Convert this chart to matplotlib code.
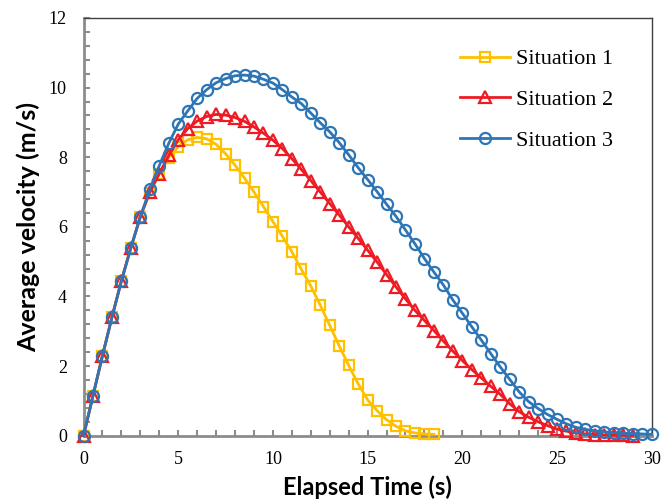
import matplotlib.pyplot as plt
from matplotlib.ticker import MultipleLocator

# sample times (s)
t = [0, 0.5, 1, 1.5, 2, 2.5, 3, 3.5, 4, 4.5, 5, 5.5, 6, 6.5, 7, 7.5, 8, 8.5, 9, 9.5,
     10, 10.5, 11, 11.5, 12, 12.5, 13, 13.5, 14, 14.5, 15, 15.5, 16, 16.5, 17, 17.5,
     18, 18.5, 19, 19.5, 20, 20.5, 21, 21.5, 22, 22.5, 23, 23.5, 24, 24.5, 25, 25.5,
     26, 26.5, 27, 27.5, 28, 28.5, 29, 29.5, 30]

v1 = [0, 1.15, 2.30, 3.40, 4.45, 5.40, 6.29, 6.98, 7.53, 7.98, 8.30, 8.50, 8.57, 8.53,
      8.37, 8.10, 7.77, 7.40, 7.00, 6.58, 6.15, 5.73, 5.28, 4.78, 4.30, 3.75, 3.17, 2.58,
      2.02, 1.49, 1.03, 0.72, 0.46, 0.27, 0.14, 0.08, 0.05, 0.04]

v2 = [0, 1.15, 2.30, 3.40, 4.45, 5.40, 6.29, 7.00, 7.53, 8.05, 8.50, 8.82, 9.04, 9.17,
      9.23, 9.21, 9.14, 9.03, 8.87, 8.69, 8.49, 8.25, 7.96, 7.65, 7.33, 7.00, 6.67, 6.34,
      6.00, 5.67, 5.33, 4.99, 4.63, 4.27, 3.93, 3.60, 3.31, 3.02, 2.72, 2.43, 2.16, 1.90,
      1.66, 1.42, 1.19, 0.92, 0.69, 0.53, 0.40, 0.29, 0.19, 0.13, 0.08, 0.05, 0.03, 0.02,
      0.01, 0.01, 0.00]

v3 = [0, 1.15, 2.30, 3.40, 4.45, 5.40, 6.29, 7.08, 7.76, 8.40, 8.95, 9.33, 9.69, 9.94,
      10.14, 10.26, 10.34, 10.36, 10.33, 10.24, 10.13, 9.94, 9.73, 9.54, 9.27, 8.99, 8.73,
      8.42, 8.07, 7.70, 7.36, 7.01, 6.65, 6.30, 5.91, 5.51, 5.09, 4.70, 4.33, 3.90, 3.52,
      3.13, 2.75, 2.36, 1.98, 1.62, 1.26, 0.98, 0.78, 0.61, 0.47, 0.34, 0.24, 0.18, 0.14,
      0.11, 0.09, 0.07, 0.06, 0.05, 0.04]

labels = ['Situation 1', 'Situation 2', 'Situation 3']
colors = ['#FFC000', '#ED1C24', '#2E75B6']

fig = plt.figure(figsize=(6.72, 5.04), dpi=100)
ax = fig.add_axes([0.1243, 0.1355, 0.8455, 0.8288])

ax.plot(t[:len(v1)], v1, color=colors[0], lw=2, marker='s', ms=7.5, mfc='none',
        mew=1.6, label=labels[0], clip_on=False, zorder=3)
ax.plot(t[:len(v2)], v2, color=colors[1], lw=2, marker='^', ms=8, mfc='none',
        mew=1.6, label=labels[1], clip_on=False, zorder=4)
ax.plot(t[:len(v3)], v3, color=colors[2], lw=2, marker='o', ms=8, mfc='none',
        mew=1.6, label=labels[2], clip_on=False, zorder=5)

ax.set_xlim(0, 30)
ax.set_ylim(0, 12)
ax.xaxis.set_major_locator(MultipleLocator(5))
ax.xaxis.set_minor_locator(MultipleLocator(1))
ax.yaxis.set_major_locator(MultipleLocator(2))
ax.yaxis.set_minor_locator(MultipleLocator(0.4))

for s in ['left', 'bottom']:
    ax.spines[s].set_color('#8c8c8c')
    ax.spines[s].set_linewidth(2)
for s in ['top', 'right']:
    ax.spines[s].set_color('#404040')
    ax.spines[s].set_linewidth(1)

ax.tick_params(which='both', direction='in', color='#8c8c8c', width=1.5, length=4)
ax.tick_params(axis='x', pad=11)
ax.tick_params(axis='y', pad=12)
for lab in ax.get_xticklabels() + ax.get_yticklabels():
    lab.set_family('Liberation Serif')
    lab.set_fontsize(13)

ax.set_xlabel('Elapsed Time (s)', family='Lato', fontweight='bold', fontsize=17)
ax.set_ylabel('Average velocity (m/s)', family='Lato', fontweight='bold', fontsize=18)
ax.xaxis.set_label_coords(0.5, -0.095)
ax.yaxis.set_label_coords(-0.077, 0.5)

leg = ax.legend(loc='upper right', frameon=False, prop={'family': 'Liberation Serif', 'size': 16},
                handlelength=2.25, handletextpad=0.3, labelspacing=0.9,
                borderpad=0, borderaxespad=0,
                bbox_to_anchor=(0.913, 0.903), bbox_transform=fig.transFigure)

plt.savefig('out.png', dpi=100)
